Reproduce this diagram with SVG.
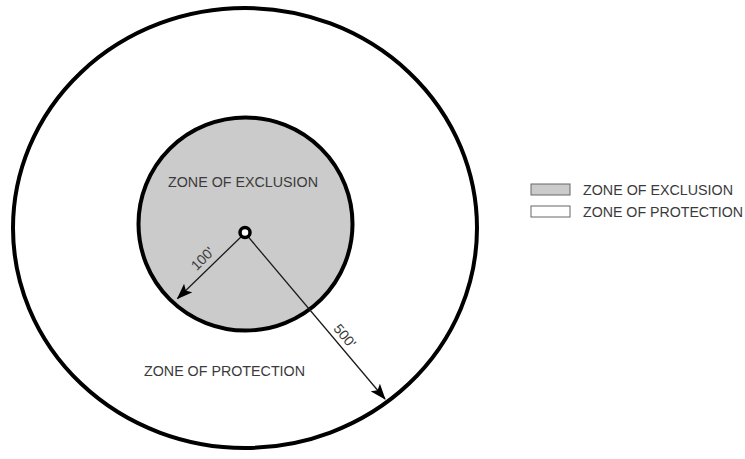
<svg xmlns="http://www.w3.org/2000/svg" width="745" height="459" viewBox="0 0 745 459">
<style>
.lbl{font-family:"Liberation Sans",Arial,sans-serif;font-size:14px;fill:#3a3a3a}
.ring{stroke:#000;stroke-width:4}
.dim{stroke:#1a1a1a;stroke-width:1.3;fill:none}
</style>
<defs>
<marker id="ah" markerWidth="16" markerHeight="12" refX="15" refY="6" orient="auto" markerUnits="userSpaceOnUse">
<path d="M0,0 L16,6 L0,12 L3.5,6 Z" fill="#000"/>
</marker>
</defs>
<rect width="745" height="459" fill="#fff"/>
<g id="protection">
<ellipse class="ring" cx="245" cy="228" rx="232" ry="220" fill="#fff"/>
<text class="lbl" x="144" y="376" textLength="161" lengthAdjust="spacingAndGlyphs">ZONE OF PROTECTION</text>
</g>
<g id="exclusion">
<ellipse class="ring" cx="245.5" cy="224" rx="107" ry="106.5" fill="#cbcbcb"/>
<text class="lbl" x="168" y="187" textLength="150" lengthAdjust="spacingAndGlyphs">ZONE OF EXCLUSION</text>
</g>
<g id="connectors">
<line class="dim" x1="245" y1="233" x2="177.5" y2="298.5" marker-end="url(#ah)"/>
<line class="dim" x1="245" y1="233" x2="385" y2="399" marker-end="url(#ah)"/>
<text class="lbl" transform="translate(206,262) rotate(-45)" text-anchor="middle">100'</text>
<text class="lbl" transform="translate(341,339) rotate(50)" text-anchor="middle">500'</text>
</g>
<g id="center">
<circle cx="245" cy="232.5" r="5" fill="#fff" stroke="#000" stroke-width="3.5"/>
</g>
<g id="legend">
<rect x="531" y="184" width="39" height="11" fill="#cbcbcb" stroke="#666" stroke-width="1"/>
<rect x="531" y="206" width="39" height="11" fill="#fff" stroke="#666" stroke-width="1"/>
<text class="lbl" x="583" y="195" textLength="150" lengthAdjust="spacingAndGlyphs">ZONE OF EXCLUSION</text>
<text class="lbl" x="583" y="217" textLength="160" lengthAdjust="spacingAndGlyphs">ZONE OF PROTECTION</text>
</g>
</svg>
